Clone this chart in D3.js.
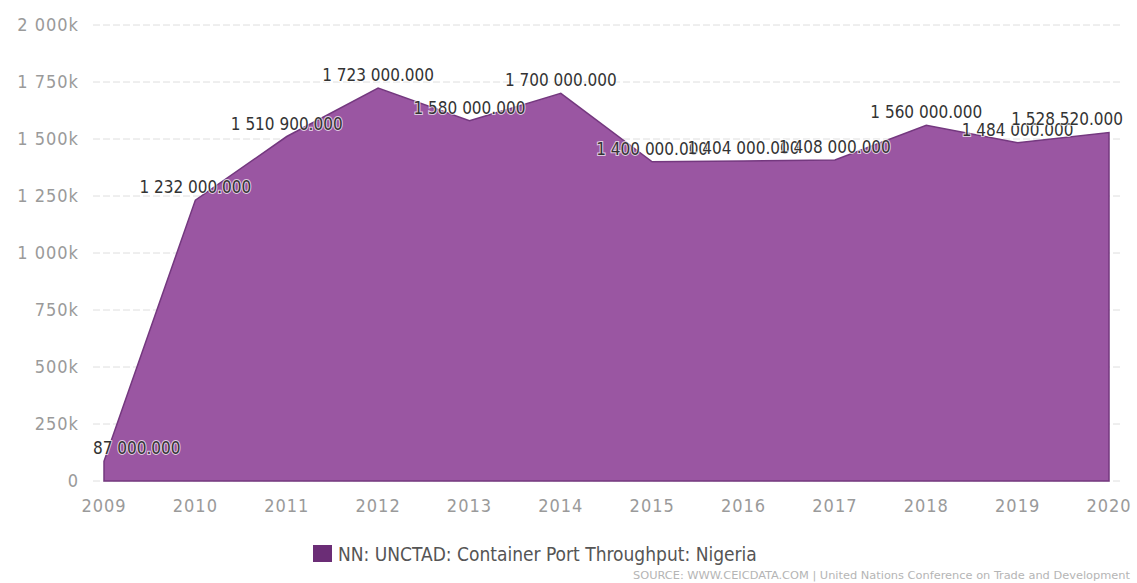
<!DOCTYPE html>
<html>
<script src='https://d3js.org/d3.v7.min.js'></script>
<style>
	body {margin: 0; background: #fff; }
	svg {display: block; }
	text {font-family: "DejaVu Sans Condensed", "DejaVu Sans", sans-serif; }
</style>
<body>
<svg id="chart" width="1137" height="583"></svg>
<script>
const years = [2009, 2010, 2011, 2012, 2013, 2014, 2015, 2016, 2017, 2018, 2019, 2020];
const throughput = [87000, 1232000, 1510900, 1723000, 1580000, 1700000, 1400000, 1404000, 1408000, 1560000, 1484000, 1528520];
const yTicks = [0, 250000, 500000, 750000, 1000000, 1250000, 1500000, 1750000, 2000000];
const seriesName = "NN: UNCTAD: Container Port Throughput: Nigeria";
const sourceText = "SOURCE: WWW.CEICDATA.COM | United Nations Conference on Trade and Development";

const svg = d3.select("#chart"),
	plotLeft = 93,
	plotRight = 1123;

const data = years.map((y, i) => ({year: y, value: throughput[i]}));

const x = d3.scaleLinear()
	.domain([2009, 2020])
	.range([104, 1109]);

const y = d3.scaleLinear()
	.domain([0, 2000000])
	.range([481, 25]);

const loc = d3.formatLocale({decimal: ".", thousands: " ", grouping: [3], currency: ["", ""]});
const fmtK = loc.format(",d");
const fmtVal = loc.format(",.3f");

// grid
svg.append("g")
	.selectAll("line")
	.data(yTicks)
	.enter()
	.append("line")
	.attr("x1", plotLeft)
	.attr("x2", plotRight)
	.attr("y1", d => y(d))
	.attr("y2", d => y(d))
	.attr("stroke", "#dedede")
	.attr("stroke-dasharray", "7,3");

// y labels
svg.append("g")
	.selectAll("text")
	.data(yTicks)
	.enter()
	.append("text")
	.attr("x", 79)
	.attr("y", d => y(d))
	.attr("dy", "0.36em")
	.attr("text-anchor", "end")
	.attr("font-size", "18px")
	.attr("letter-spacing", "1px")
	.attr("fill", "#9a9a9a")
	.text(d => d === 0 ? "0" : fmtK(d / 1000) + "k");

// area
const area = d3.area()
	.x(d => x(d.year))
	.y0(y(0))
	.y1(d => y(d.value));

svg.append("path")
	.datum(data)
	.attr("fill", "#9a56a2")
	.attr("stroke", "#74387f")
	.attr("stroke-width", 1.5)
	.attr("d", area);

// x labels
svg.append("g")
	.selectAll("text")
	.data(years)
	.enter()
	.append("text")
	.attr("x", d => x(d))
	.attr("y", 512)
	.attr("text-anchor", "middle")
	.attr("font-size", "18px")
	.attr("letter-spacing", "1px")
	.attr("fill", "#9a9a9a")
	.text(d => d);

// data labels
const labels = svg.append("g")
	.selectAll("text")
	.data(data)
	.enter()
	.append("text")
	.attr("y", d => y(d.value) - 7)
	.attr("text-anchor", "middle")
	.attr("font-size", "17px")
	.attr("fill", "#333")
	.attr("stroke", "#fff")
	.attr("stroke-width", 2)
	.attr("stroke-opacity", 0.7)
	.attr("paint-order", "stroke")
	.text(d => fmtVal(d.value));

labels.attr("x", function(d) {
	const w = this.getComputedTextLength();
	let cx = x(d.year);
	if (cx - w / 2 < plotLeft) cx = plotLeft + w / 2;
	if (cx + w / 2 > plotRight) cx = plotRight - w / 2;
	return cx;
});

// legend
svg.append("rect")
	.attr("x", 313)
	.attr("y", 545)
	.attr("width", 19)
	.attr("height", 17)
	.attr("fill", "#6b2d76");

svg.append("text")
	.attr("x", 338)
	.attr("y", 561)
	.attr("font-size", "19px")
	.attr("fill", "#555")
	.text(seriesName);

svg.append("text")
	.attr("x", 633)
	.attr("y", 579)
	.attr("font-size", "11px")
	.attr("fill", "#b5b5b5")
	.attr("textLength", 497)
	.attr("lengthAdjust", "spacingAndGlyphs")
	.text(sourceText);
</script>
</body>
</html>
